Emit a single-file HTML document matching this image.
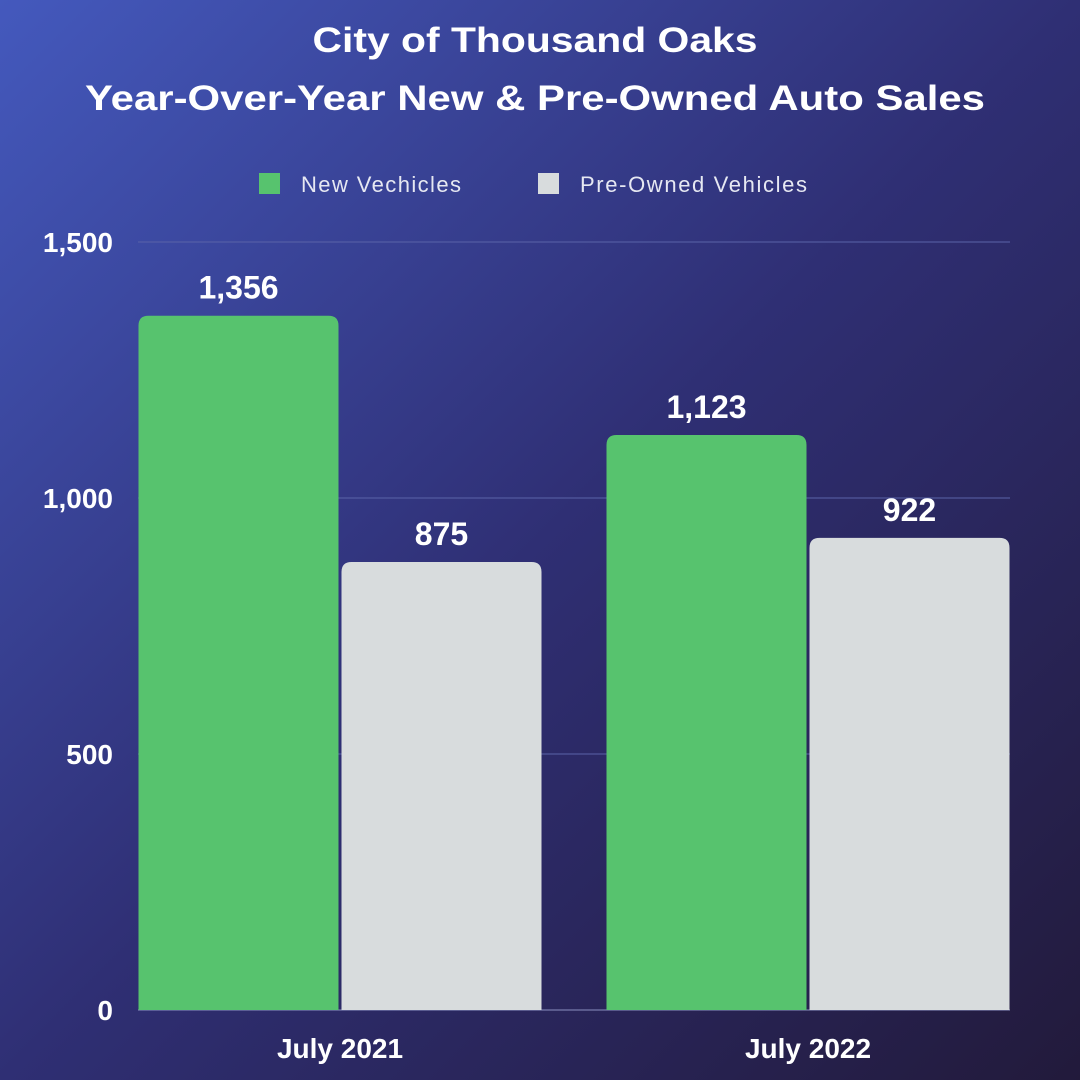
<!DOCTYPE html>
<html><head><meta charset="utf-8">
<style>
html,body{margin:0;padding:0;}
body{width:1080px;height:1080px;overflow:hidden;font-family:"Liberation Sans",sans-serif;}
</style></head>
<body>
<svg width="1080" height="1080" xmlns="http://www.w3.org/2000/svg">
<defs>
<linearGradient id="bg" x1="0" y1="0" x2="1" y2="1">
<stop offset="0" stop-color="#4459bd"/>
<stop offset="0.5" stop-color="#2f2f74"/>
<stop offset="1" stop-color="#221a3b"/>
</linearGradient>
</defs>
<rect width="1080" height="1080" fill="url(#bg)"/>
<text x="535" y="52" text-anchor="middle" fill="#fff" font-size="35" font-weight="bold" textLength="445" lengthAdjust="spacingAndGlyphs">City of Thousand Oaks</text>
<text x="535" y="110" text-anchor="middle" fill="#fff" font-size="35" font-weight="bold" textLength="900" lengthAdjust="spacingAndGlyphs">Year-Over-Year New &amp; Pre-Owned Auto Sales</text>
<g>
<rect x="259" y="173" width="21" height="21" fill="#57c36e"/>
<text x="301" y="192" fill="#e6e8f2" font-size="22" textLength="160">New Vechicles</text>
<rect x="538" y="173" width="21" height="21" fill="#d8dcdd"/>
<text x="580" y="192" fill="#e6e8f2" font-size="22" textLength="227">Pre-Owned Vehicles</text>
</g>
<g id="grid"></g>
<g id="bars"></g>
<g id="labels"></g>
</svg>
<script>
const categories = ["July 2021", "July 2022"];
const newVehicles = [1356, 1123];
const preOwned = [875, 922];
const yTicks = [0, 500, 1000, 1500];
const yTickLabels = ["0", "500", "1,000", "1,500"];
const newLabels = ["1,356", "1,123"];
const preLabels = ["875", "922"];

const NS = "http://www.w3.org/2000/svg";
const y0 = 1010, yMax = 1500, pxH = 768;
function yScale(v){ return y0 - v / yMax * pxH; }
function xCenter(i){ return 340 + i * 468; }
const barW = 200, gap = 3;

function mk(tag, attrs, parent){
  const e = document.createElementNS(NS, tag);
  for (const k in attrs) e.setAttribute(k, attrs[k]);
  parent.appendChild(e);
  return e;
}
const grid = document.getElementById("grid");
const bars = document.getElementById("bars");
const labels = document.getElementById("labels");

yTicks.forEach((t, i) => {
  const y = yScale(t);
  const ln = mk("line", {x1:138, x2:1010, y1:y, y2:y, stroke: t===0 ? "#8a90c0" : "#5a63a8", "stroke-width":1}, grid);
  
  
  const tx = mk("text", {x:113, y:y+10, "text-anchor":"end", fill:"#fff", "font-size":28, "font-weight":"bold"}, labels);
  tx.textContent = yTickLabels[i];
  
  
});

function barPath(x, y, w, h, r){
  return `M${x},${y+h} L${x},${y+r} Q${x},${y} ${x+r},${y} L${x+w-r},${y} Q${x+w},${y} ${x+w},${y+r} L${x+w},${y+h} Z`;
}

categories.forEach((c, i) => {
  const cx = xCenter(i);
  const series = [[newVehicles[i], "#57c36e", newLabels[i], cx - gap/2 - barW, 'bar-new'],
                  [preOwned[i], "#d8dcdd", preLabels[i], cx + gap/2, 'bar-preowned']];
  series.forEach(s => {
    const y = yScale(s[0]);
    const p = mk("path", {d: barPath(s[3], y, barW, y0 - y, 10), fill: s[1]}, bars);
    
    
    const t = mk("text", {x: s[3] + barW/2, y: y - 17, "text-anchor":"middle", fill:"#fff", "font-size":32, "font-weight":"bold"}, labels);
    t.textContent = s[2];
    
    
  });
  const xl = mk("text", {x: cx, y: 1058, "text-anchor":"middle", fill:"#fff", "font-size":28, "font-weight":"bold"}, labels);
  xl.textContent = c;
  
  
});
</script>
</body></html>
